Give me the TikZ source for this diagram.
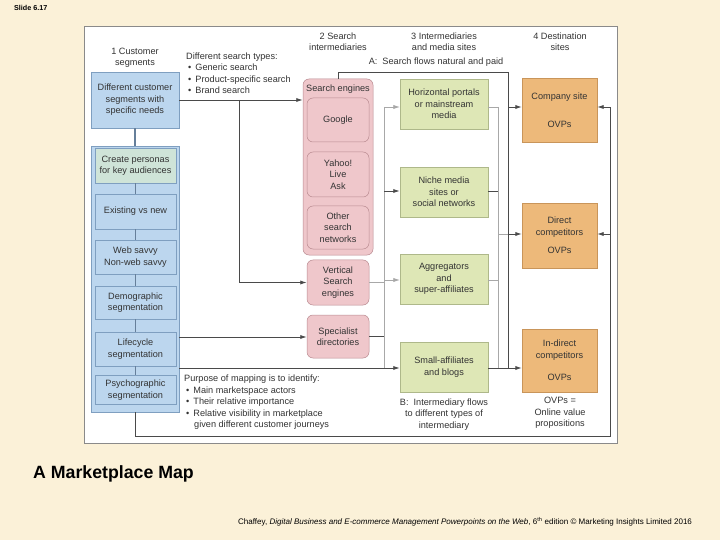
\documentclass[tikz,border=0pt]{standalone}
\usepackage{fontspec}
\setmainfont{Liberation Sans}
\usetikzlibrary{arrows.meta}
\definecolor{cream}{HTML}{FBF1D8}
\definecolor{panelb}{HTML}{8A8A8A}
\definecolor{txt}{HTML}{333333}
\definecolor{bluef}{HTML}{BCD6EE}
\definecolor{blued}{HTML}{7F9FC0}
\definecolor{persf}{HTML}{CFE4D8}
\definecolor{pinkf}{HTML}{EFC7CB}
\definecolor{pinkd}{HTML}{B98A90}
\definecolor{greenf}{HTML}{DEE7B6}
\definecolor{greend}{HTML}{AEB88A}
\definecolor{orangef}{HTML}{EDB97A}
\definecolor{oranged}{HTML}{C9955A}
\definecolor{darkln}{HTML}{4A4A4A}
\definecolor{greyln}{HTML}{A8A8A8}
\newcommand\myfs{\fontsize{9.2}{11.5}\selectfont}
\begin{document}
\begin{tikzpicture}[x=1bp,y=-1bp,
  box/.style={draw, inner sep=0pt, align=center, font=\myfs, text=txt},
  bluebox/.style={box, fill=bluef, draw=blued, line width=0.6bp},
  innerblue/.style={box, fill=bluef, draw=blued, line width=0.5bp, minimum width=81bp},
  persbox/.style={box, fill=persf, draw=blued, line width=0.5bp, minimum width=81bp},
  pinkbox/.style={box, fill=pinkf, draw=pinkd, line width=0.5bp, rounded corners=6bp},
  greenbox/.style={box, fill=greenf, draw=greend, line width=0.5bp, minimum width=88bp, minimum height=50bp},
  orangebox/.style={box, fill=orangef, draw=oranged, line width=0.4bp, minimum width=75bp},
  lbl/.style={inner sep=0pt, align=center, font=\myfs, text=txt},
  dark/.style={draw=darkln, line width=0.9bp},
  grey/.style={draw=greyln, line width=0.6bp},
  arr/.style={-{Latex[length=6.5bp,width=4.2bp]}},
  linkv/.style={draw=blued!80!black, line width=1.2bp}
]
\useasboundingbox (0,0) rectangle (720,540);
\fill[cream] (0,0) rectangle (720,540);
% white panel
\node[draw=panelb, fill=white, line width=0.8bp, inner sep=0pt, minimum width=533bp, minimum height=417bp] (panel) at (350.5,234.5) {};

% slide number, title and footer
\node[inner sep=0pt, anchor=west, font=\fontsize{7.2}{8}\selectfont\bfseries] (slide) at (14,8) {Slide 6.17};
\node[inner sep=0pt, anchor=west, font=\fontsize{17.8}{20}\selectfont\bfseries] (title) at (33,474) {A Marketplace Map};
\node[inner sep=0pt, anchor=west, font=\fontsize{8.05}{9}\selectfont] (foot) at (238,522) {Chaffey, \textit{Digital Business and E-commerce Management Powerpoints on the Web}, 6\textsuperscript{th} edition \textcopyright\ Marketing Insights Limited 2016};

% column headers
\node[lbl] (h1) at (135,57.5) {1 Customer\\segments};
\node[lbl] (h2) at (338,41.5) {2 Search\\intermediaries};
\node[lbl] (h3) at (444,41.5) {3 Intermediaries\\and media sites};
\node[lbl] (h4) at (560,41.5) {4 Destination\\sites};
\node[lbl] (alab) at (436,62) {A:\ \ Search flows natural and paid};
\node[lbl, anchor=west, align=left] (stypes) at (186,73) {Different search types:\\\hspace*{2bp}\textbullet\hspace{4bp}Generic search\\\hspace*{2bp}\textbullet\hspace{4bp}Product-specific search\\\hspace*{2bp}\textbullet\hspace{4bp}Brand search};
\node[lbl, anchor=west, align=left] (purpose) at (184,402.5) {Purpose of mapping is to identify:\\\hspace*{2bp}\textbullet\hspace{4bp}Main marketspace actors\\\hspace*{2bp}\textbullet\hspace{4bp}Their relative importance\\\hspace*{2bp}\textbullet\hspace{4bp}Relative visibility in marketplace\\\hspace*{10bp}given different customer journeys};
\node[lbl] (blab) at (444,414.5) {B:\ \ Intermediary flows\\to different types of\\intermediary};
\node[lbl] (ovps) at (560,413) {OVPs =\\Online value\\propositions};

% column 1
\node[bluebox, minimum width=88bp, minimum height=56bp] (seg) at (135,100) {Different customer\\segments with\\specific needs};
\node[bluebox, minimum width=88bp, minimum height=266bp] (big) at (135,279) {};
\node[persbox, minimum height=35bp] (pers) at (135.5,165.5) {Create personas\\for key audiences};
\node[innerblue, minimum height=35bp] (exist) at (135.5,211.5) {Existing vs new};
\node[innerblue, minimum height=34bp] (web) at (135.5,257) {Web savvy\\Non-web savvy};
\node[innerblue, minimum height=33bp] (demo) at (135.5,302.5) {Demographic\\segmentation};
\node[innerblue, minimum height=34bp] (life) at (135.5,349) {Lifecycle\\segmentation};
\node[innerblue, minimum height=29bp] (psy) at (135.5,390) {Psychographic\\segmentation};
\draw[linkv] (seg.south) -- (big.north);
\draw[linkv] (pers.south) -- (exist.north);
\draw[linkv] (exist.south) -- (web.north);
\draw[linkv] (web.south) -- (demo.north);
\draw[linkv] (demo.south) -- (life.north);
\draw[linkv] (life.south) -- (psy.north);

% column 2
\node[pinkbox, minimum width=70bp, minimum height=176bp] (se) at (338,167) {};
\node[lbl] (selab) at (338,89) {Search engines};
\node[pinkbox, minimum width=62bp, minimum height=44bp] (google) at (338,120) {Google};
\node[pinkbox, minimum width=62bp, minimum height=45bp] (yahoo) at (338,174.5) {Yahoo!\\Live\\Ask};
\node[pinkbox, minimum width=62bp, minimum height=43bp] (other) at (338,227.5) {Other\\search\\networks};
\node[pinkbox, minimum width=62bp, minimum height=45bp] (vert) at (338,282.5) {Vertical\\Search\\engines};
\node[pinkbox, minimum width=62bp, minimum height=43bp] (spec) at (338,336.5) {Specialist\\directories};

% column 3
\node[greenbox] (hp) at (444,104) {Horizontal portals\\or mainstream\\media};
\node[greenbox] (niche) at (444,192) {Niche media\\sites or\\social networks};
\node[greenbox] (agg) at (444,279) {Aggregators\\and\\super-affiliates};
\node[greenbox] (small) at (444,367) {Small-affiliates\\and blogs};

% column 4
\node[orangebox, minimum height=64bp] (cs) at (559.5,110) {Company site\\[16.5bp]OVPs};
\node[orangebox, minimum height=65bp] (dc) at (559.5,235.5) {Direct\\competitors\\[7.5bp]OVPs};
\node[orangebox, minimum height=63bp] (ic) at (559.5,360.5) {In-direct\\competitors\\[11.5bp]OVPs};

% coordinates for routing
\coordinate (c1) at (239,100);
\coordinate (c2) at (239,282.5);
\coordinate (gl1) at (384,107);
\coordinate (gl2) at (384,191);
\coordinate (gl3) at (384,280);
\coordinate (gl4) at (384,368);
\coordinate (gr1) at (498,107);
\coordinate (gr2) at (498,191);
\coordinate (gr3) at (498,234);
\coordinate (gr4) at (498,280);
\coordinate (gr5) at (498,368);
\coordinate (a0) at (338,72);
\coordinate (a1) at (508,72);
\coordinate (a2) at (508,107);
\coordinate (a3) at (508,234);
\coordinate (a4) at (508,368);
\coordinate (b0) at (135,436);
\coordinate (b1) at (610,436);
\coordinate (b2) at (610,107);
\coordinate (b3) at (610,234);
\coordinate (l1) at (179,337);
\coordinate (l2) at (179,368);

% column 1 -> column 2
\draw[dark, arr] (seg.east) -- (se.west |- seg.east);
\draw[dark, arr] (c1) -- (c2) -- (vert.west);
\draw[dark, arr] (l1) -- (spec.west |- l1);
\draw[dark, arr] (l2) -- (small.west |- l2);

% column 2 -> column 3 (B flows)
\draw[grey] (gl1) -- (gl4);
\draw[grey] (vert.east) -- (gl3 |- vert.east);
\draw[dark] (spec.east) -- (gl3 |- spec.east);
\draw[grey, arr] (gl1) -- (hp.west |- gl1);
\draw[dark, arr] (gl2) -- (niche.west |- gl2);
\draw[grey, arr] (gl3) -- (agg.west |- gl3);

% column 3 -> column 4
\draw[grey] (gr1) -- (gr5);
\draw[grey] (hp.east |- gr1) -- (gr1);
\draw[dark] (niche.east |- gr2) -- (gr2);
\draw[grey] (agg.east |- gr4) -- (gr4);
\draw[grey] (gr3) -- (a3);
\draw[dark] (small.east |- gr5) -- (a4);

% A flows
\draw[dark] (se.north) -- (a0) -- (a1) -- (a4);
\draw[dark, arr] (a2) -- (cs.west |- a2);
\draw[dark, arr] (a3) -- (dc.west |- a3);
\draw[dark, arr] (a4) -- (ic.west |- a4);

% feedback loop
\draw[dark] (big.south) -- (b0) -- (b1) -- (b2);
\draw[dark, arr] (b2) -- (cs.east |- b2);
\draw[dark, arr] (b3) -- (dc.east |- b3);
\end{tikzpicture}
\end{document}
